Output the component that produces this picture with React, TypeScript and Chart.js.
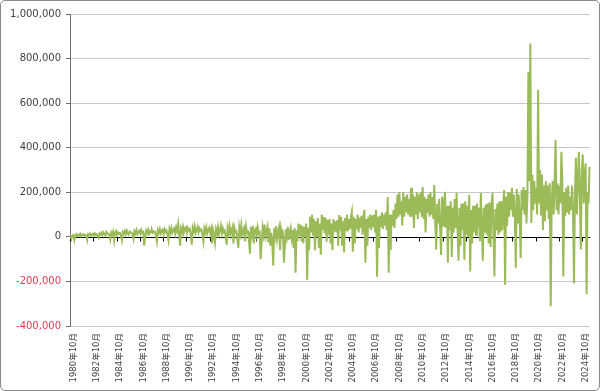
import React, { useEffect, useRef } from 'react';
import { Chart, registerables } from 'chart.js';

Chart.register(...registerables);

// Monthly series starting 1980年10月, values in thousands
const START_YEAR = 1980;
const START_MONTH = 10;

const tickLabels = [
  '1980年10月', '1982年10月', '1984年10月', '1986年10月', '1988年10月', '1990年10月',
  '1992年10月', '1994年10月', '1996年10月', '1998年10月', '2000年10月', '2002年10月',
  '2004年10月', '2006年10月', '2008年10月', '2010年10月', '2012年10月', '2014年10月',
  '2016年10月', '2018年10月', '2020年10月', '2022年10月', '2024年10月',
];

const values1980s = [
  3, -8, 6,
  8, -15, 5, 12, 4, 10, 6, 14, 3, 9, 12, 7,
  10, 4, -10, 12, 8, 15, 6, 11, 14, 5, 16, 9,
  12, 3, -5, 15, 10, 18, 8, 20, 12, 6, 22, 14,
  15, 8, -12, 20, 12, 24, -15, 18, 26, 9, 20, 16,
  18, 5, -15, 22, 14, 25, 12, 28, 16, 10, 24, 20,
  20, 8, -10, 25, 15, 30, 12, 22, 28, 14, 30, 18,
  22, -40, 5, 28, 16, 32, 14, 26, 20, 30, 18, 25,
  24, 6, -20, 30, 18, 35, 15, 28, 32, 12, 34, 22,
  28, 10, -15, 35, 20, 40, 18, 30, 38, 15, 42, 26,
];

const values1990s = [
  58, 12, -40, 38, 22, 45, 20, 35, 42, 18, 40, 30,
  35, 8, -35, 40, 25, 48, 18, 32, 45, 20, 38, 28,
  32, 10, -20, 38, 22, 42, 15, 30, 40, 18, 35, -30,
  30, 5, -25, 35, 20, 45, 12, 28, 50, 15, 38, 22,
  28, 0, -35, 40, 18, 48, 10, 30, 45, -30, 40, 20,
  25, -10, -50, 42, 15, 52, 8, 28, 40, -20, 45, 18,
  22, -20, -76, 45, 12, 50, -30, 30, 38, 8, 42, 15,
  20, -100, -30, 40, 10, 55, 2, 25, 45, -25, 38, -40,
  18, -25, -130, 38, 5, 48, -10, 22, 42, -60, 35, 8,
  15, -116, -40, 35, 0, 45, -15, 20, 40, -5, 30, -50,
];

const values2000s = [
  40, -161, 30, -20, 60, 5, 55, -20, 50, -30, 45, 0,
  60, -193, 40, -60, 90, 20, 99, 10, 80, -60, 70, 0,
  85, -50, 60, -80, 100, 30, 90, 15, 85, -20, 75, 10,
  80, -30, 60, -60, 80, 25, 70, 20, 75, -40, 98, 30,
  90, -40, 70, -70, 85, 30, 100, 25, 80, 35, 90, 113,
  -67, 90, -30, 80, 35, 100, 20, 85, 40, 95, 10, 90,
  121, -116, 80, -40, 90, 40, 100, 30, 95, 45, 100, 20,
  121, -179, 90, -50, 95, 45, 110, 35, 100, 50, 110, 30,
  179, -161, 100, -60, 100, 50, 120, 40, 150, 80, 190, 90,
  200, 100, 160, 50, 200, 90, 180, 110, 190, 100, 170, 90,
];

const values2010s = [
  220, 90, 190, 40, 180, 100, 200, 80, 190, 110, 200, 90,
  224, 80, 180, 20, 170, 110, 190, 90, 200, 100, 180, 80,
  233, 60, -58, 150, 60, 170, 40, -81, 180, 50, 150, 202,
  40, 140, -116, 140, 30, 160, -90, 130, 20, 170, 40, 197,
  20, -107, 130, -40, 150, 30, 150, -103, 160, 10, 140, 0,
  188, -155, 120, -30, 140, 20, 140, 10, 150, 40, 130, -20,
  197, 40, -107, 130, 20, 145, 10, 150, -30, 155, -45, 135,
  197, 20, -178, 125, 30, 150, 10, 160, 20, 160, 30, 140,
  210, -215, 180, 50, 200, 90, 200, 120, 220, 90, 190, 100,
  -139, 215, 60, 190, 80, -95, 210, 120, 224, 100, 210, 60,
];

const values2020s = [
  180, 740, 250, 868, 62, 280, 120, 250, 150, 220, 100, 660,
  150, 300, 100, 280, 31, 230, 70, 250, 120, 230, 80, 240,
  -311, 150, 250, 100, 240, 435, 120, 240, 100, 230, 150, 382,
  240, -178, 200, 95, 220, 110, 230, 100, 180, 120, 230, 110,
  -208, 200, 355, 100, 240, 382, 200, -57, 300, 370, 150, 280,
  330, -258, 200, 150, 315,
];

const valuesK = [...values1980s, ...values1990s, ...values2000s, ...values2010s, ...values2020s];
const series = valuesK.map((v) => v * 1000);
const categories = valuesK.map((_, i) => {
  const m = START_MONTH - 1 + i;
  return `${START_YEAR + Math.floor(m / 12)}年${(m % 12) + 1}月`;
});

const zeroAxis = {
  id: 'zeroAxis',
  beforeDatasetsDraw(chart: any) {
    const { ctx, chartArea, scales } = chart;
    const xs = scales.x;
    const y0 = Math.round(scales.y.getPixelForValue(0)) + 0.5;
    const half = (xs.getPixelForValue(1) - xs.getPixelForValue(0)) / 2;
    ctx.save();
    ctx.strokeStyle = '#000000';
    ctx.lineWidth = 1;
    ctx.beginPath();
    ctx.moveTo(chartArea.left, y0);
    ctx.lineTo(chartArea.right, y0);
    for (let i = 0; i < categories.length; i += 24) {
      const x = Math.round(xs.getPixelForValue(i) - half) + 0.5;
      ctx.moveTo(x, y0);
      ctx.lineTo(x, y0 + 4);
    }
    ctx.stroke();
    ctx.restore();
  },
};

export default function App() {
  const ref = useRef<HTMLCanvasElement | null>(null);

  useEffect(() => {
    document.body.style.margin = '0';
    const canvas = ref.current;
    if (!canvas) return;
    const chart = new Chart(canvas, {
      type: 'line',
      data: {
        labels: categories,
        datasets: [
          {
            data: series,
            borderColor: '#9bbb59',
            backgroundColor: '#9bbb59',
            borderWidth: 2,
            pointRadius: 0,
            tension: 0,
          },
        ],
      },
      options: {
        animation: false,
        responsive: false,
        maintainAspectRatio: false,
        layout: { padding: { top: 13, right: 9, left: 0, bottom: 0 } },
        plugins: { legend: { display: false }, tooltip: { enabled: false } },
        scales: {
          x: {
            type: 'category',
            offset: true,
            grid: { display: false, drawTicks: false },
            border: { display: false },
            ticks: {
              autoSkip: false,
              minRotation: 90,
              maxRotation: 90,
              padding: 7,
              labelOffset: 3,
              color: '#404040',
              font: { family: '"DejaVu Sans", "Noto Sans CJK JP"', size: 8.5 },
              callback: (_v: any, index: number) => (index % 24 === 0 ? tickLabels[index / 24] : ''),
            },
            afterFit: (scale: any) => {
              scale.height = 64;
              scale.paddingLeft = 0;
              scale.paddingRight = 0;
            },
          },
          y: {
            min: -400000,
            max: 1000000,
            grid: {
              color: (ctx: any) => (ctx.tick && ctx.tick.value === 0 ? 'rgba(0,0,0,0)' : '#c6c6c6'),
              tickColor: '#6e6e6e',
              tickLength: 4,
              lineWidth: 1,
            },
            border: { color: '#6e6e6e', width: 1 },
            ticks: {
              stepSize: 200000,
              padding: 5,
              color: (ctx: any) => (ctx.tick && ctx.tick.value < 0 ? '#e23a50' : '#404040'),
              font: { family: '"DejaVu Sans"', size: 10 },
              callback: (v: any) => Number(v).toLocaleString('en-US'),
            },
            afterFit: (scale: any) => {
              scale.width = 69;
            },
          },
        },
      },
      plugins: [zeroAxis],
    });
    return () => chart.destroy();
  }, []);

  return (
    <div
      style={{
        width: 600,
        height: 391,
        boxSizing: 'border-box',
        border: '1px solid #8a8a8a',
        borderRadius: 5,
        background: '#ffffff',
        overflow: 'hidden',
      }}
    >
      <canvas ref={ref} width={598} height={389} style={{ display: 'block', width: 598, height: 389 }} />
    </div>
  );
}
